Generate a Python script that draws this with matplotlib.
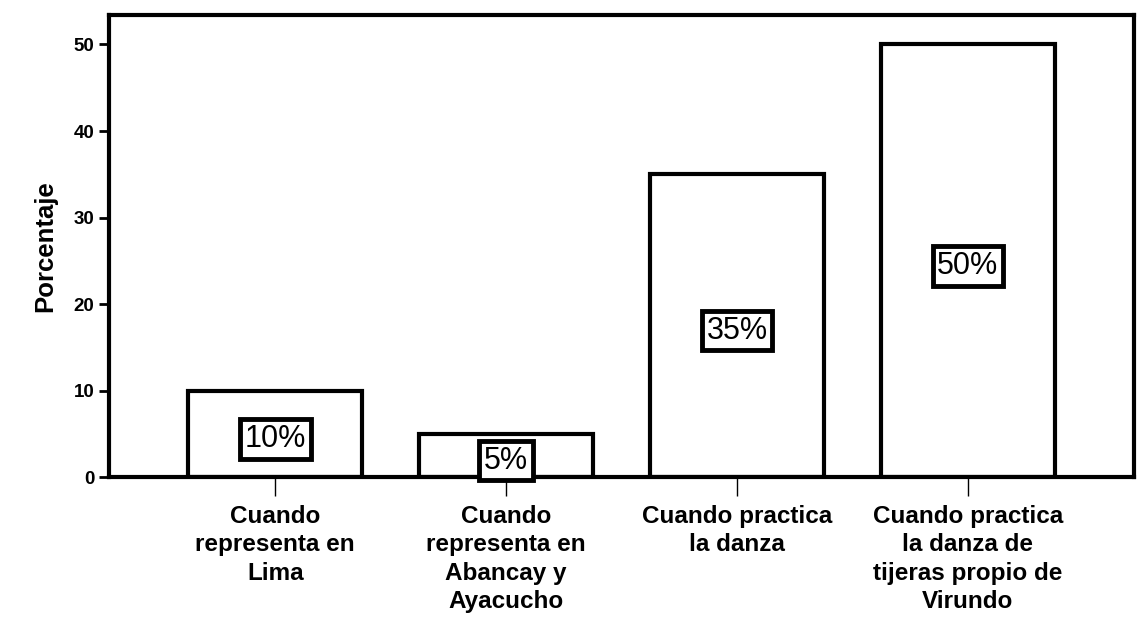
import numpy as np
import matplotlib.pyplot as plt

categorias = ["Cuando\nrepresenta en\nLima",
              "Cuando\nrepresenta en\nAbancay y\nAyacucho",
              "Cuando practica\nla danza",
              "Cuando practica\nla danza de\ntijeras propio de\nVirundo"]
porcentaje = [10, 5, 35, 50]
etiquetas = ["10%", "5%", "35%", "50%"]
yticks = [0, 10, 20, 30, 40, 50]

plt.rcParams['font.family'] = ['Liberation Sans', 'DejaVu Sans']

fig = plt.figure(figsize=(11.39, 6.18), dpi=100)
ax = fig.add_axes([0.0957, 0.228, 0.900, 0.7476])

x = np.arange(len(categorias))
ax.bar(x, porcentaje, width=0.755, color="white", edgecolor="black", linewidth=3)

for xi, v, t in zip(x, porcentaje, etiquetas):
    ax.text(xi, v / 2 - 0.6, t, ha="center", va="center", fontsize=22,
            bbox=dict(boxstyle="square,pad=0.15", fc="white", ec="black", lw=3.5),
            clip_on=False, zorder=5)

ax.set_xlim(-0.72, 3.72)
ax.set_ylim(0, 53.4)
ax.set_yticks(yticks)
ax.set_yticklabels([str(t) for t in yticks], fontsize=13.5, fontweight="bold")
ax.set_xticks(x)
ax.set_xticklabels(categorias, fontsize=17.5, fontweight="bold", linespacing=1.3)
ax.tick_params(axis="y", length=7, width=2, direction="out")
ax.tick_params(axis="x", length=14, width=1, direction="out", pad=6)
ax.set_ylabel("Porcentaje", fontsize=18.5, fontweight="bold", labelpad=12)

for s in ax.spines.values():
    s.set_linewidth(3)

fig.savefig("out.png", dpi=100)
